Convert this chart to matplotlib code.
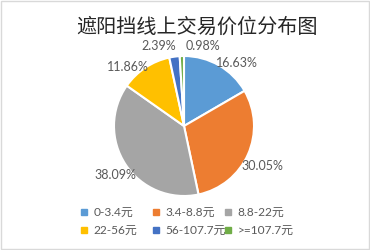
import numpy as np
import matplotlib
matplotlib.use('Agg')
import matplotlib.pyplot as plt
from matplotlib.lines import Line2D
from matplotlib.patches import Rectangle

plt.rcParams['font.family'] = ['Noto Sans CJK SC', 'DejaVu Sans']

# data
categories = ['0-3.4元', '3.4-8.8元', '8.8-22元', '22-56元', '56-107.7元', '>=107.7元']
shares = [16.63, 30.05, 38.09, 11.86, 2.39, 0.98]
colors = ['#5B9BD5', '#ED7D31', '#A5A5A5', '#FFC000', '#4472C4', '#70AD47']
title = '遮阳挡线上交易价位分布图'

# label placement tweaks (angle shift in degrees, distance in radii)
label_shift = [-10, -3, 2, 10, 10, -15]
label_dist = [1.17, 1.25, 1.21, 1.17, 1.2, 1.17]

W, H = 370, 250
fig = plt.figure(figsize=(W / 100, H / 100), dpi=100)
fig.patch.set_facecolor('white')
fig.patches.append(Rectangle((0.002, 0.003), 0.995, 0.993, transform=fig.transFigure,
                             fill=False, edgecolor='#D9D9D9', linewidth=1))

cx, cy, r = 184, 126, 70
ax = fig.add_axes([(cx - r) / W, (H - cy - r) / H, 2 * r / W, 2 * r / H])
wedges, _ = ax.pie(shares, colors=colors, startangle=90, counterclock=False,
                   radius=1, wedgeprops=dict(edgecolor='white', linewidth=1.5))
ax.set_xlim(-1, 1)
ax.set_ylim(-1, 1)
ax.axis('off')

total = sum(shares)
cum = np.cumsum(shares) - np.array(shares) / 2
for val, c, sh, d in zip(shares, cum, label_shift, label_dist):
    mid = np.deg2rad(90 - 360 * c / total + sh)
    ax.text(d * np.cos(mid), d * np.sin(mid), f'{val:.2f}%', ha='center', va='center',
            fontsize=9, color='#595959', family=['Lato', 'DejaVu Sans'], clip_on=False)

fig.text(197 / W, 1 - 27 / H, title, ha='center', va='center', fontsize=14.5, color='#262626')

# legend: three equal-width columns, rows filled first (like Excel)
col_x = [85, 157, 229]
for j, x in enumerate(col_x):
    idx = [j, j + 3]
    handles = [Line2D([], [], marker='s', linestyle='none', markersize=4.5,
                      markerfacecolor=colors[i], markeredgecolor=colors[i]) for i in idx]
    fig.legend(handles, [categories[i] for i in idx], loc='center left',
               bbox_to_anchor=((x - 5) / W, 1 - 221.5 / H),
               frameon=False, labelcolor='#595959', handlelength=0.75,
               handletextpad=0.4, labelspacing=0.6, borderpad=0, borderaxespad=0,
               prop={'family': ['Lato', 'Noto Sans CJK SC'], 'size': 8.6})

fig.savefig('out.png', dpi=100)
